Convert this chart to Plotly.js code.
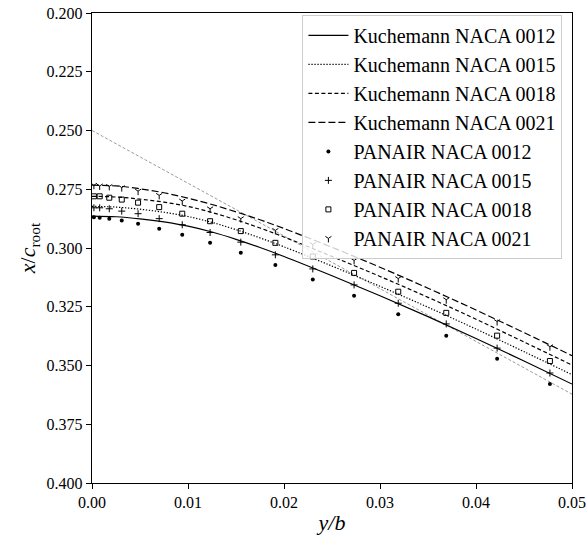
<!DOCTYPE html>
<html>
<head>
<meta charset="utf-8">
<script src="https://cdn.plot.ly/plotly-3.0.1.min.js"></script>
<style>html,body{margin:0;padding:0;background:#fff;}#chart{width:586px;height:539px;}</style>
</head>
<body>
<div id="chart"></div>
<script>
// Kuchemann curves (y/b vs x/c_root)
const ybKuch = [0, 0.0025, 0.005, 0.0075, 0.01, 0.0125, 0.015, 0.0175, 0.02, 0.025, 0.03, 0.035, 0.04, 0.045, 0.05];
const kuch0012 = [0.2864, 0.2867, 0.2876, 0.2889, 0.2907, 0.2932, 0.2963, 0.2998, 0.3036, 0.3118, 0.3203, 0.3292, 0.3385, 0.3481, 0.3579];
const kuch0015 = [0.2823, 0.2826, 0.2835, 0.2848, 0.2866, 0.2891, 0.2922, 0.2957, 0.2995, 0.3077, 0.3163, 0.3252, 0.3345, 0.3441, 0.3539];
const kuch0018 = [0.2780, 0.2783, 0.2792, 0.2805, 0.2823, 0.2849, 0.2880, 0.2915, 0.2953, 0.3036, 0.3121, 0.3210, 0.3303, 0.3400, 0.3498];
const kuch0021 = [0.2733, 0.2736, 0.2748, 0.2765, 0.2788, 0.2815, 0.2846, 0.2880, 0.2917, 0.2997, 0.3082, 0.3171, 0.3264, 0.3360, 0.3458];

// PANAIR results
const ybPanair = [0.0002, 0.0008, 0.0018, 0.0031, 0.0048, 0.0070, 0.0094, 0.0123, 0.0155, 0.0191, 0.0230, 0.0273, 0.0319, 0.0369, 0.0422, 0.0477];
const panair0012 = [0.2869, 0.2871, 0.2875, 0.2883, 0.2897, 0.2918, 0.2944, 0.2978, 0.3020, 0.3072, 0.3134, 0.3203, 0.3282, 0.3373, 0.3471, 0.3579];
const panair0015 = [0.2829, 0.2829, 0.2833, 0.2843, 0.2854, 0.2875, 0.2901, 0.2934, 0.2975, 0.3029, 0.3089, 0.3157, 0.3235, 0.3323, 0.3426, 0.3532];
const panair0018 = [0.2780, 0.2780, 0.2786, 0.2794, 0.2807, 0.2826, 0.2854, 0.2886, 0.2928, 0.2978, 0.3036, 0.3106, 0.3186, 0.3276, 0.3373, 0.3481];
const panair0021 = [0.2733, 0.2736, 0.2738, 0.2743, 0.2758, 0.2776, 0.2800, 0.2833, 0.2875, 0.2925, 0.2985, 0.3053, 0.3130, 0.3220, 0.3313, 0.3420];

// Reference sweep line
const sweepX = [0, 0.05];
const sweepY = [0.25, 0.3622];

const xTicks = [0, 0.01, 0.02, 0.03, 0.04, 0.05];
const yTicks = [0.200, 0.225, 0.250, 0.275, 0.300, 0.325, 0.350, 0.375, 0.400];

const FONT = '"Liberation Serif", "Times New Roman", Times, serif';

const traces = [
  {x: sweepX, y: sweepY, mode: 'lines', showlegend: false, hoverinfo: 'skip',
   line: {color: '#808080', width: 0.8, dash: '3px,2px'}},
  {x: ybKuch, y: kuch0012, mode: 'lines', name: 'Kuchemann NACA 0012', legendgroup: 'a',
   line: {color: 'black', width: 1.2, shape: 'spline'}},
  {x: ybKuch, y: kuch0015, mode: 'lines', name: 'Kuchemann NACA 0015', legendgroup: 'b',
   line: {color: 'black', width: 1.2, dash: '1.3px,1.7px', shape: 'spline'}},
  {x: ybKuch, y: kuch0018, mode: 'lines', name: 'Kuchemann NACA 0018', legendgroup: 'c',
   line: {color: 'black', width: 1.2, dash: '4px,2.5px', shape: 'spline'}},
  {x: ybKuch, y: kuch0021, mode: 'lines', name: 'Kuchemann NACA 0021', legendgroup: 'd',
   line: {color: 'black', width: 1.2, dash: '7px,3px', shape: 'spline'}},
  {x: ybPanair, y: panair0012, mode: 'markers', name: 'PANAIR NACA 0012', legendgroup: 'e',
   marker: {symbol: 'circle', size: 4, color: 'black'}},
  {x: ybPanair, y: panair0015, mode: 'markers', name: 'PANAIR NACA 0015', legendgroup: 'f',
   marker: {symbol: 'cross-thin', size: 5, color: 'black', line: {color: 'black', width: 1}}},
  {x: ybPanair, y: panair0018, mode: 'markers', name: 'PANAIR NACA 0018', legendgroup: 'g',
   marker: {symbol: 'square-open', size: 5, color: 'black', line: {color: 'black', width: 1}}},
  {x: ybPanair, y: panair0021, mode: 'markers', name: 'PANAIR NACA 0021', legendgroup: 'h',
   marker: {symbol: 'y-down', size: 5, color: 'black', line: {color: 'black', width: 1}}}
];

const layout = {
  width: 586, height: 539,
  margin: {l: 92, r: 14, t: 13, b: 56},
  paper_bgcolor: 'white', plot_bgcolor: 'white',
  font: {family: FONT, size: 16, color: 'black'},
  showlegend: true,
  legend: {
    x: 0.98, y: 0.996, xanchor: 'right', yanchor: 'top',
    bgcolor: 'rgba(255,255,255,0.8)', bordercolor: '#cccccc', borderwidth: 1,
    font: {family: FONT, size: 20, color: 'black'},
    tracegroupgap: 0, itemwidth: 40
  },
  xaxis: {
    range: [0, 0.05], tickvals: xTicks, tickformat: '.2f',
    ticks: 'outside', ticklen: 5, tickwidth: 1, tickcolor: 'black',
    showline: true, linecolor: 'black', linewidth: 1.2, mirror: true,
    showgrid: false, zeroline: false,
    tickfont: {family: FONT, size: 16},
    title: {text: '<i>y/b</i>', font: {family: FONT, size: 22}, standoff: 4}
  },
  yaxis: {
    range: [0.4, 0.2], tickvals: yTicks, tickformat: '.3f',
    ticks: 'outside', ticklen: 5, tickwidth: 1, tickcolor: 'black',
    showline: true, linecolor: 'black', linewidth: 1.2, mirror: true,
    showgrid: false, zeroline: false,
    tickfont: {family: FONT, size: 16},
    title: {text: '<i>x</i>/<i>c</i><sub>root</sub>', font: {family: FONT, size: 22}, standoff: 4}
  }
};

Plotly.newPlot('chart', traces, layout, {staticPlot: true, displayModeBar: false});
</script>
</body>
</html>
